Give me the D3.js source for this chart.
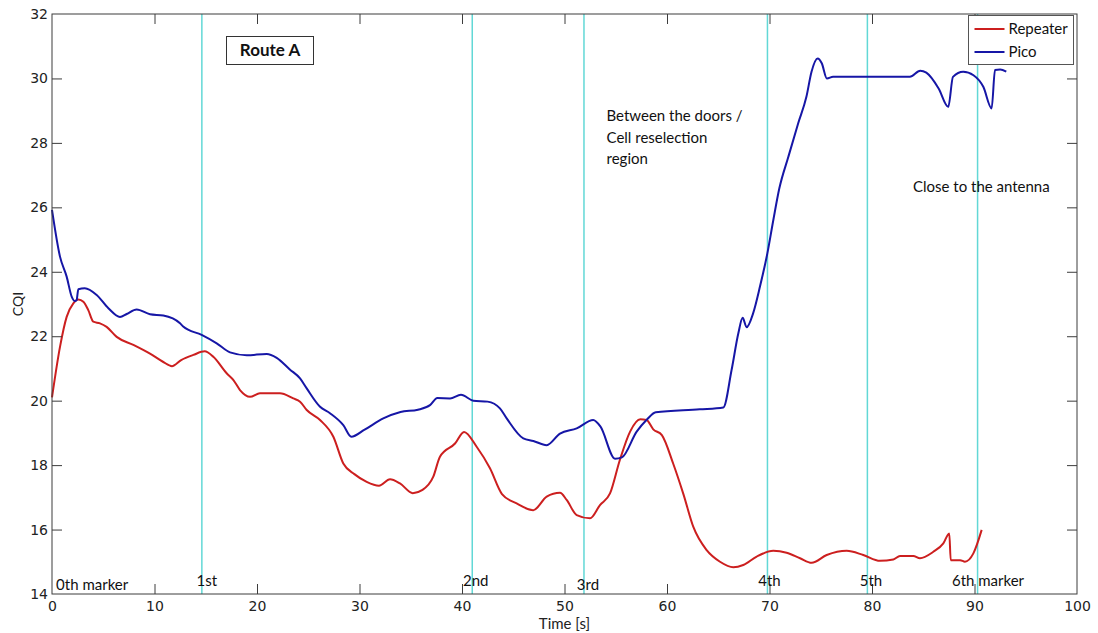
<!DOCTYPE html>
<html>
<head>
<meta charset="utf-8">
<script src="https://cdn.jsdelivr.net/npm/d3@7"></script>
<style>
  body { margin: 0; background: #fff; }
  svg { display: block; }
</style>
</head>
<body>
<div id="chart"></div>
<script>
const picoTime = [0, 0.78, 1.43, 1.92, 2.24, 2.4, 2.57, 3.2, 4.36, 5.5, 6.63, 7.29, 8.26, 9.56, 10.86, 12.49, 12.8,
  14.6, 16.07, 17.37, 19.0, 20.95, 21.92, 23.2, 24.2, 24.85, 26.15, 27.12, 28.42, 29.2, 30.5, 32.32, 34.0, 35.7,
  36.88, 37.6, 38.83, 39.9, 41.1, 42.5, 43.7, 44.36, 45.98, 46.96, 48.26, 49.56, 51.19, 52.8, 53.5, 54.93, 55.6,
  57.04, 58.0, 58.9, 63.2, 65.5, 66.3, 66.96, 67.38, 67.77, 68.4, 69.07, 69.79, 70.37, 70.96, 71.84, 72.8, 73.6,
  74.1, 74.7, 75.1, 75.6, 76.2, 83.7, 84.7, 85.3, 86.5, 87.44, 87.9, 88.9, 89.9, 90.86, 91.67, 92.0, 92.5, 93.1];
const picoCqi = [25.92, 24.47, 23.85, 23.23, 23.09, 23.12, 23.46, 23.49, 23.28, 22.87, 22.6, 22.69, 22.83, 22.68, 22.64,
  22.4, 22.3, 22.04, 21.78, 21.5, 21.41, 21.45, 21.33, 20.97, 20.69, 20.38, 19.81, 19.61, 19.24, 18.88, 19.1, 19.45,
  19.65, 19.72, 19.86, 20.08, 20.07, 20.18, 20.0, 19.97, 19.76, 19.45, 18.83, 18.75, 18.62, 18.98, 19.14, 19.4, 19.2,
  18.2, 18.24, 19.04, 19.4, 19.64, 19.73, 19.79, 20.95, 22.09, 22.57, 22.28, 22.71, 23.54, 24.57, 25.6, 26.59, 27.57,
  28.61, 29.43, 30.21, 30.62, 30.47, 30.0, 30.05, 30.05, 30.24, 30.18, 29.69, 29.12, 30.05, 30.21, 30.1, 29.74,
  29.07, 30.26, 30.28, 30.21];

const repeaterTime = [0, 0.78, 1.43, 2.08, 2.57, 3.06, 3.54, 4.03, 4.68, 5.33, 6.31, 7.94, 9.56, 10.86, 11.7, 12.6,
  13.79, 14.9, 15.74, 17.04, 17.7, 18.34, 19.32, 20.29, 22.24, 23.54, 24.2, 24.85, 26.15, 27.45, 28.42, 29.5, 30.7,
  31.9, 32.98, 33.95, 35.2, 36.15, 37.2, 37.85, 39.32, 40.2, 41.43, 42.73, 43.9, 45.33, 46.96, 48.26, 49.56, 50.21,
  51.19, 52.49, 53.46, 54.44, 55.4, 56.4, 57.4, 58.0, 58.66, 59.5, 60.6, 61.6, 62.57, 63.87, 65.17, 66.47, 67.44,
  68.75, 70.37, 71.67, 72.98, 74.11, 75.58, 77.53, 79.15, 80.78, 82.08, 82.73, 84.03, 84.68, 85.98, 86.96, 87.54,
  87.68, 88.6, 89.07, 89.89, 90.7];
const repeaterCqi = [20.1, 21.67, 22.6, 23.02, 23.14, 23.07, 22.81, 22.45, 22.4, 22.29, 21.98, 21.73, 21.46, 21.2,
  21.07, 21.26, 21.42, 21.53, 21.36, 20.85, 20.64, 20.33, 20.12, 20.23, 20.23, 20.07, 19.97, 19.71, 19.4, 18.88,
  18.05, 17.72, 17.48, 17.36, 17.56, 17.43, 17.13, 17.23, 17.64, 18.26, 18.67, 19.03, 18.57, 17.9, 17.1, 16.81, 16.6,
  17.02, 17.14, 16.92, 16.45, 16.35, 16.76, 17.12, 18.16, 19.04, 19.42, 19.4, 19.11, 18.93, 18.05, 17.1, 16.08,
  15.36, 15.0, 14.83, 14.9, 15.16, 15.34, 15.28, 15.11, 14.97, 15.21, 15.34, 15.21, 15.03, 15.07, 15.18, 15.18,
  15.11, 15.31, 15.57, 15.88, 15.05, 15.05, 15.0, 15.26, 15.99];

const markerTimes = [14.62, 41.0, 51.9, 69.8, 79.55, 90.3];
const markerLabels = ['0th marker', '1st', '2nd', '3rd', '4th', '5th', '6th marker'];
const markerLabelTimes = [0.4, 14.1, 40.1, 51.2, 68.9, 78.8, 87.8];

const xTicks = [0, 10, 20, 30, 40, 50, 60, 70, 80, 90, 100];
const yTicks = [14, 16, 18, 20, 22, 24, 26, 28, 30, 32];

const width = 1098;
const height = 633;
const plot = { left: 52, right: 1077, top: 14, bottom: 594 };

const red = '#cc1f1f';
const blue = '#1616a6';
const cyan = '#62d8d6';
const labelFont = 'Lato, "Open Sans", sans-serif';
const tickFont = '"DejaVu Sans", Verdana, sans-serif';

const svg = d3.select('#chart')
  .append('svg')
  .attr('width', width)
  .attr('height', height)
  .attr('viewBox', `0 0 ${width} ${height}`);

const xScale = d3.scaleLinear().domain([0, 100]).range([plot.left, plot.right]);
const yScale = d3.scaleLinear().domain([14, 32]).range([plot.bottom, plot.top]);

// marker lines
svg.append('g')
  .selectAll('line')
  .data(markerTimes)
  .enter()
  .append('line')
  .attr('x1', d => xScale(d))
  .attr('x2', d => xScale(d))
  .attr('y1', plot.top)
  .attr('y2', plot.bottom)
  .attr('stroke', cyan)
  .attr('stroke-width', 1.5);

// series
const line = d3.line()
  .x(d => xScale(d[0]))
  .y(d => yScale(d[1]))
  .curve(d3.curveMonotoneX);

const repeater = repeaterTime.map((t, i) => [t, repeaterCqi[i]]);
const pico = picoTime.map((t, i) => [t, picoCqi[i]]);

svg.append('path')
  .datum(repeater)
  .attr('fill', 'none')
  .attr('stroke', red)
  .attr('stroke-width', 2)
  .attr('stroke-linejoin', 'round')
  .attr('d', line);

svg.append('path')
  .datum(pico)
  .attr('fill', 'none')
  .attr('stroke', blue)
  .attr('stroke-width', 2)
  .attr('stroke-linejoin', 'round')
  .attr('d', line);

// axes box, ticks inside on all four sides
const axisColor = '#3c3c3c';
svg.append('rect')
  .attr('x', plot.left)
  .attr('y', plot.top)
  .attr('width', plot.right - plot.left)
  .attr('height', plot.bottom - plot.top)
  .attr('fill', 'none')
  .attr('stroke', axisColor)
  .attr('stroke-width', 1);

const tickLen = 10;
const xAxisBottom = d3.axisBottom(xScale).tickValues(xTicks).tickSizeInner(-tickLen).tickSizeOuter(0).tickPadding(7);
const xAxisTop = d3.axisTop(xScale).tickValues(xTicks).tickSizeInner(-tickLen).tickSizeOuter(0).tickFormat('');
const yAxisLeft = d3.axisLeft(yScale).tickValues(yTicks).tickSizeInner(-tickLen).tickSizeOuter(0).tickPadding(4);
const yAxisRight = d3.axisRight(yScale).tickValues(yTicks).tickSizeInner(-tickLen).tickSizeOuter(0).tickFormat('');

function styleAxis(g) {
  g.select('.domain').remove();
  g.selectAll('.tick line').attr('stroke', axisColor);
  g.selectAll('.tick text')
    .attr('fill', '#222')
    .style('font-family', tickFont)
    .style('font-size', '14px');
}

svg.append('g').attr('transform', `translate(0,${plot.bottom})`).call(xAxisBottom).call(styleAxis);
svg.append('g').attr('transform', `translate(0,${plot.top})`).call(xAxisTop).call(styleAxis);
svg.append('g').attr('transform', `translate(${plot.left},0)`).call(yAxisLeft).call(styleAxis);
svg.append('g').attr('transform', `translate(${plot.right},0)`).call(yAxisRight).call(styleAxis);

// hide the tick marks at the corners like the original
svg.selectAll('.tick')
  .filter(d => d === 0 || d === 100 || d === 14 || d === 32)
  .select('line')
  .remove();

// axis titles
svg.append('text')
  .attr('x', (plot.left + plot.right) / 2)
  .attr('y', 629)
  .attr('text-anchor', 'middle')
  .style('font-family', labelFont)
  .style('font-size', '15px')
  .attr('fill', '#222')
  .text('Time [s]');

svg.append('text')
  .attr('transform', `translate(23,${(plot.top + plot.bottom) / 2}) rotate(-90)`)
  .attr('text-anchor', 'middle')
  .style('font-family', labelFont)
  .style('font-size', '14px')
  .attr('fill', '#222')
  .text('CQI');

// marker labels along the bottom
svg.append('g')
  .selectAll('text')
  .data(markerLabels)
  .enter()
  .append('text')
  .attr('x', (d, i) => xScale(markerLabelTimes[i]))
  .attr('y', (d, i) => i === 0 || i === 3 ? 590 : 586)
  .style('font-family', labelFont)
  .style('font-size', '15px')
  .attr('fill', '#111')
  .text(d => d);

// annotations
const doorsText = svg.append('text')
  .style('font-family', labelFont)
  .style('font-size', '15px')
  .attr('fill', '#111');
['Between the doors /', 'Cell reselection', 'region'].forEach((s, i) => {
  doorsText.append('tspan')
    .attr('x', xScale(54.1))
    .attr('y', 121 + i * 21.5)
    .text(s);
});

svg.append('text')
  .attr('x', xScale(84))
  .attr('y', 192)
  .style('font-family', labelFont)
  .style('font-size', '15px')
  .attr('fill', '#111')
  .text('Close to the antenna');

// Route A box
svg.append('rect')
  .attr('x', 226.5)
  .attr('y', 36.5)
  .attr('width', 87)
  .attr('height', 28)
  .attr('fill', '#fff')
  .attr('stroke', '#333');
svg.append('text')
  .attr('x', 270)
  .attr('y', 56)
  .attr('text-anchor', 'middle')
  .style('font-family', labelFont)
  .style('font-size', '17px')
  .style('font-weight', 'bold')
  .attr('fill', '#111')
  .text('Route A');

// legend
const legend = svg.append('g').attr('transform', 'translate(968.5,15.5)');
legend.append('rect')
  .attr('width', 105)
  .attr('height', 49)
  .attr('fill', '#fff')
  .attr('stroke', '#555');
const legendItems = [['Repeater', red], ['Pico', blue]];
legendItems.forEach((item, i) => {
  const y = 13.5 + i * 23;
  legend.append('line')
    .attr('x1', 6).attr('x2', 36)
    .attr('y1', y).attr('y2', y)
    .attr('stroke', item[1])
    .attr('stroke-width', 2);
  legend.append('text')
    .attr('x', 40)
    .attr('y', y + 5)
    .style('font-family', labelFont)
    .style('font-size', '15px')
    .attr('fill', '#111')
    .text(item[0]);
});
</script>
</body>
</html>
